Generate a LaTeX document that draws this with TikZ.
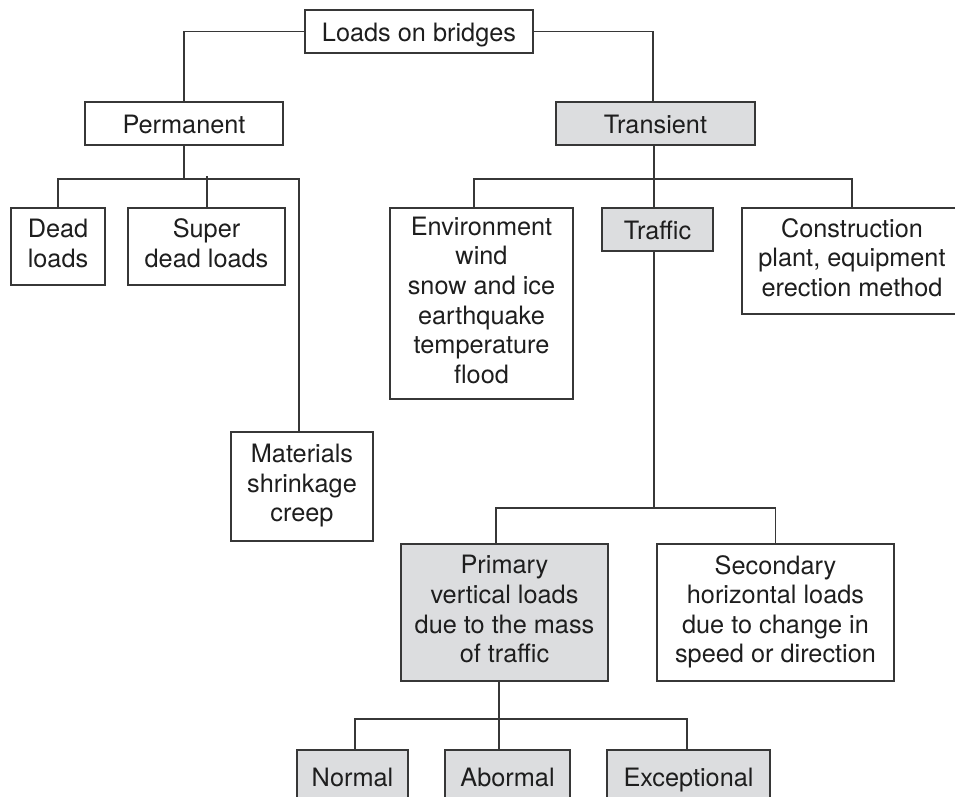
\documentclass[tikz,border=0pt]{standalone}
\usepackage{fontspec}
\setmainfont{TeX Gyre Heros}
\definecolor{boxgray}{RGB}{220,221,223}
\definecolor{linec}{RGB}{55,55,55}
\definecolor{textc}{RGB}{30,30,30}
\newcommand{\mystrut}{\rule[-7pt]{0pt}{34pt}}
\newcommand{\mytallstrut}{\rule{0pt}{34pt}}
\begin{document}
\begin{tikzpicture}[x=1pt,y=-1pt,
  box/.style={draw=linec, line width=1.5pt, inner sep=0pt, align=center, text=textc,
    font=\fontsize{25.3}{29.6}\selectfont,
    execute at begin node=\mystrut, execute at end node=\mystrut},
  multi/.style={execute at begin node=\mytallstrut\mystrut},
  gbox/.style={box, fill=boxgray},
  conn/.style={draw=linec, line width=1.5pt}]
\useasboundingbox (0,0) rectangle (955,796);
\clip (0,0) rectangle (955,796);
\fill[white] (0,0) rectangle (955,796);
% nodes
\node[box, minimum width=228, minimum height=43] (top) at (419,31.5) {Loads on bridges};
\node[box, minimum width=198, minimum height=43] (perm) at (184,123.5) {Permanent};
\node[gbox, minimum width=199, minimum height=43] (trans) at (655.5,123.5) {Transient};
\node[box, multi, minimum width=94, minimum height=77] (dead) at (58,246.5) {Dead\\loads};
\node[box, multi, minimum width=157, minimum height=77] (super) at (206.5,246.5) {Super\\dead loads};
\node[box, multi, minimum width=142, minimum height=109] (mat) at (302,486.5) {Materials\\shrinkage\\creep};
\node[box, multi, minimum width=183, minimum height=191] (env) at (481.5,303.5) {Environment\\wind\\snow and ice\\earthquake\\temperature\\flood};
\node[gbox, minimum width=111, minimum height=43] (traffic) at (657.5,229.5) {Traffic};
\node[box, multi, minimum width=220, minimum height=106] (constr) at (852,261) {Construction\\plant, equipment\\erection method};
\node[gbox, multi, minimum width=207, minimum height=137] (primary) at (504.5,612.5) {Primary\\vertical loads\\due to the mass\\of traffic};
\node[box, multi, minimum width=237, minimum height=137] (secondary) at (775.5,612.5) {Secondary\\horizontal loads\\due to change in\\speed or direction};
\node[gbox, minimum width=111, minimum height=52] (normal) at (352.5,776) {Normal};
\node[gbox, minimum width=125, minimum height=52] (abn) at (507.5,776) {Abormal};
\node[gbox, minimum width=163, minimum height=52] (exc) at (688.5,776) {Exceptional};
% connectors
\coordinate (pbus) at (184,179);
\coordinate (tbus) at (654,179);
\coordinate (fbus) at (654,508);
\coordinate (qbus) at (499,719);
\draw[conn] (top.west) -| (perm.north);
\draw[conn] (top.east) -| ([xshift=-2.5pt]trans.north);
\draw[conn] (perm.south) -- (pbus);
\draw[conn] (dead.north) |- (pbus) -| ([xshift=-3pt]mat.north);
\draw[conn] ([xshift=0.5pt]super.north) -- ++(0,-31);
\draw[conn] ([xshift=-1.5pt]trans.south) -- (tbus);
\draw[conn] ([xshift=-7.5pt]env.north) |- (tbus) -| (constr.north);
\draw[conn] (tbus) -- ([xshift=-3.5pt]traffic.north);
\draw[conn] ([xshift=-3.5pt]traffic.south) -- (fbus);
\draw[conn] ([xshift=-8.5pt]primary.north) |- (fbus) -| (secondary.north);
\draw[conn] ([xshift=-5.5pt]primary.south) -- (qbus);
\draw[conn] ([xshift=2.5pt]normal.north) |- (qbus) -| ([xshift=-1.5pt]exc.north);
\draw[conn] (qbus) -- ([xshift=-8.5pt]abn.north);
\end{tikzpicture}
\end{document}
